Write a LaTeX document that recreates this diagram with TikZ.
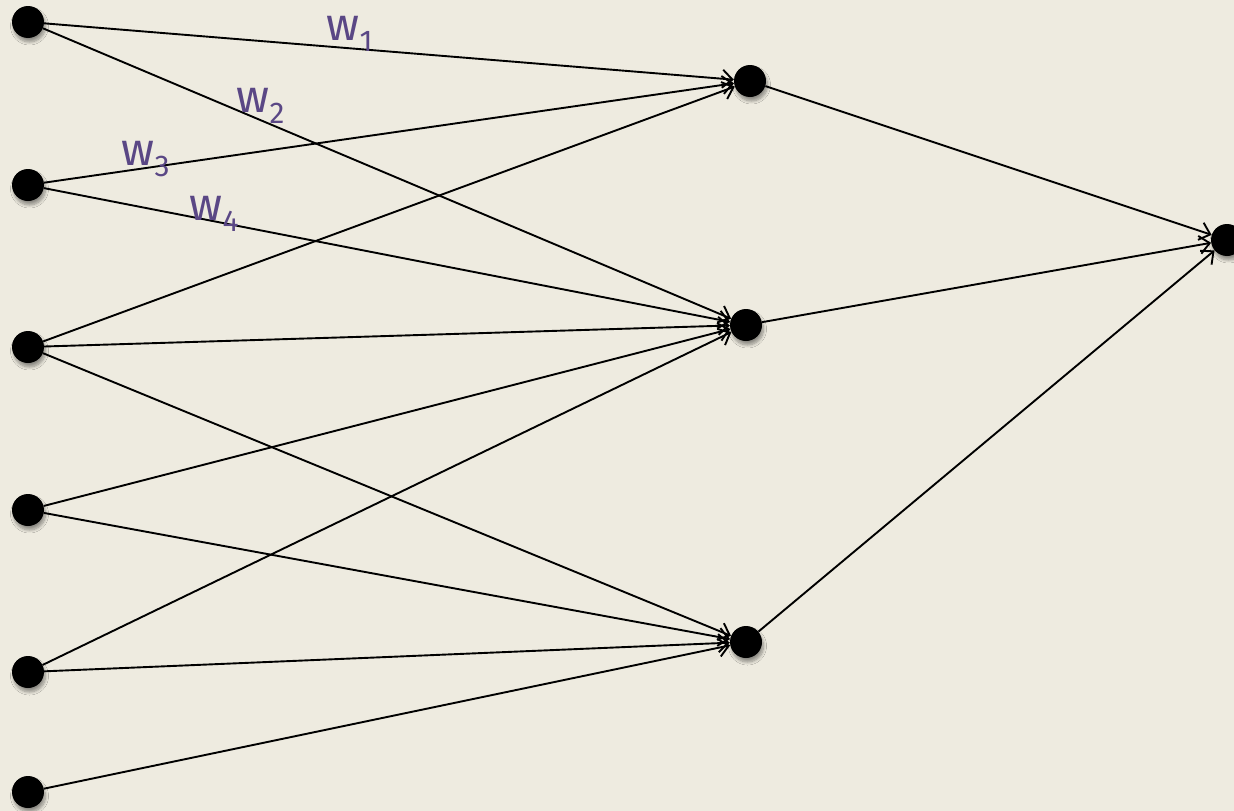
\documentclass[tikz,border=0pt]{standalone}
\usepackage{fontspec}
\setmainfont{Fira Sans}
\usepackage{xcolor}
\usepackage{tikz}
\usetikzlibrary{arrows.meta, shadows.blur}

\definecolor{paper}{HTML}{EEEBE0}
\definecolor{wcol}{HTML}{5A4785}

% weight label: w with a lowered index
\newcommand{\wsub}[1]{w\kern0.5pt\raisebox{-11pt}{\fontsize{30}{30}\selectfont #1}}

\begin{document}
\begin{tikzpicture}[x=1pt, y=-1pt,
    neuron/.style={circle, fill=black, minimum size=32pt, inner sep=0pt,
        blur shadow={shadow xshift=1.5pt, shadow yshift=-4pt, shadow opacity=40, shadow blur steps=8, shadow blur radius=3pt}},
    wire/.style={line width=1.9pt, -{Straight Barb[length=10pt, width=18pt]}},
    weight/.style={anchor=base west, inner sep=0pt, text=wcol, font=\fontsize{46}{50}\selectfont}]

    \fill[paper] (0,0) rectangle (1234,811);
    \useasboundingbox (0,0) rectangle (1234,811);

    % input layer
    \node[neuron] (i1) at (28,22) {};
    \node[neuron] (i2) at (28,185) {};
    \node[neuron] (i3) at (28,347) {};
    \node[neuron] (i4) at (28,510) {};
    \node[neuron] (i5) at (28,672) {};
    \node[neuron] (i6) at (28,792) {};

    % hidden layer
    \node[neuron] (h1) at (750,81) {};
    \node[neuron] (h2) at (746,325) {};
    \node[neuron] (h3) at (746,642) {};

    % output
    \node[neuron] (o) at (1227,240) {};

    \draw[wire] (i1) -- (h1);
    \draw[wire] (i1) -- (h2);
    \draw[wire] (i2) -- (h1);
    \draw[wire] (i2) -- (h2);
    \draw[wire] (i3) -- (h1);
    \draw[wire] (i3) -- (h2);
    \draw[wire] (i3) -- (h3);
    \draw[wire] (i4) -- (h2);
    \draw[wire] (i4) -- (h3);
    \draw[wire] (i5) -- (h2);
    \draw[wire] (i5) -- (h3);
    \draw[wire] (i6) -- (h3);

    \draw[wire] (h1) -- (o);
    \draw[wire] (h2) -- (o);
    \draw[wire] (h3) -- (o);

    \node[weight] (w1) at (326,40) {\wsub{1}};
    \node[weight] (w2) at (236,112) {\wsub{2}};
    \node[weight] (w3) at (121,165) {\wsub{3}};
    \node[weight] (w4) at (189,220) {\wsub{4}};
\end{tikzpicture}
\end{document}
